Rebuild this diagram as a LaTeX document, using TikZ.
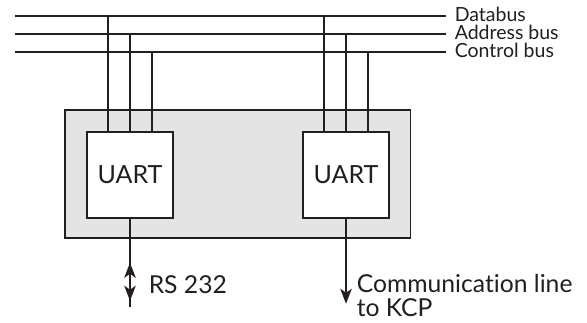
\documentclass[tikz,border=0pt]{standalone}
\usepackage{fontspec}
\setmainfont{Lato}[Ligatures=NoCommon]
\usetikzlibrary{arrows.meta,positioning}
\definecolor{ink}{HTML}{231F20}
\definecolor{boardgray}{HTML}{E4E4E4}

\begin{document}
\begin{tikzpicture}[
    x=1pt, y=-1pt, line width=1.5pt, text=ink,
    board/.style={draw=ink, fill=boardgray, minimum width=345.7pt, minimum height=128pt, inner sep=0pt},
    uart/.style={draw=ink, fill=white, minimum width=86pt, minimum height=86pt, inner sep=0pt,
        font=\fontsize{25}{30}\selectfont},
    buslabel/.style={anchor=base west, inner sep=0pt, font=\fontsize{19.5}{21}\selectfont},
    sidelabel/.style={anchor=base west, inner sep=0pt, align=left, font=\fontsize{24.7}{23.4}\selectfont},
    tip/.tip={Stealth[length=15pt, width=11.5pt, inset=4pt]}
]
    \useasboundingbox (0,0) rectangle (587,322);%page size

    % board with the two UARTs
    \node[board] (board) at (237.8,174) {};
    \node[uart] (uartA) at (130,175) {UART};
    \node[uart] (uartB) at (346,175) {UART};

    % buses
    \coordinate (db-w) at (15,16);
    \coordinate (ab-w) at (15,34);
    \coordinate (cb-w) at (15,52);
    \node[buslabel] (db) at (454,21) {Databus};
    \node[buslabel] (ab) at (454,39) {Address bus};
    \node[buslabel] (cb) at (454,57) {Control bus};
    \draw[draw=ink] (db-w) -- ([xshift=-8pt]db-w -| db.west);
    \draw[draw=ink] (ab-w) -- ([xshift=-8pt]ab-w -| ab.west);
    \draw[draw=ink] (cb-w) -- ([xshift=-8pt]cb-w -| cb.west);

    \foreach \u in {uartA,uartB}{
        \draw[draw=ink] ([xshift=-22pt]\u.north) -- ([xshift=-22pt]\u.north |- db-w);
        \draw[draw=ink] (\u.north) -- (\u.north |- ab-w);
        \draw[draw=ink] ([xshift=22pt]\u.north) -- ([xshift=22pt]\u.north |- cb-w);
    }

    % lines out
    \draw[draw=ink] (uartA.south) -- ([yshift=-88pt]uartA.south) coordinate (rs-end);
    \draw[draw=ink, tip-tip] ([yshift=-44pt]uartA.south) -- ([yshift=-82pt]uartA.south);
    \node[sidelabel] (rs) at (148,293.3) {RS 232};

    \draw[draw=ink, -tip] (uartB.south) -- ([yshift=-85pt]uartB.south) coordinate (kcp-end);
    \node[sidelabel] (kcp) at (356,316) {Communication line\\to KCP};
\end{tikzpicture}
\end{document}
